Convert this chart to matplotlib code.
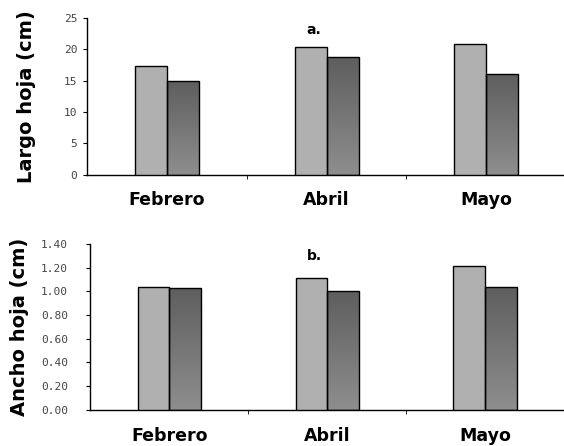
import numpy as np
import matplotlib.pyplot as plt
from matplotlib.colors import LinearSegmentedColormap

# ---------------------------
# DATOS
# ---------------------------

meses = ["Febrero", "Abril", "Mayo"]

largo_serie1 = [17.4, 20.3, 20.9]
largo_serie2 = [15.0, 18.7, 16.1]

ancho_serie1 = [1.04, 1.11, 1.21]
ancho_serie2 = [1.03, 1.00, 1.04]

largo_ticks = [0, 5, 10, 15, 20, 25]
ancho_ticks = [0.0, 0.2, 0.4, 0.6, 0.8, 1.0, 1.2, 1.4]

# ---------------------------
# ESTILO
# ---------------------------

ANCHO_BARRA = 0.2
COLOR_CLARO = "#b0b0b0"
degradado = LinearSegmentedColormap.from_list("gris", ["#8e8e8e", "#5e5e5e"])


def barras_degradado(ax, bars):
    # relleno degradado (oscuro arriba, claro abajo) recortado a cada barra
    grad = np.linspace(0, 1, 256).reshape(-1, 1)
    for b in bars:
        x0 = b.get_x()
        w, h = b.get_width(), b.get_height()
        im = ax.imshow(grad, cmap=degradado, aspect="auto", origin="lower",
                       extent=[x0, x0 + w, 0, h], vmin=0, vmax=1, zorder=2)
        im.set_clip_path(b)
        b.set_facecolor("none")
        b.set_zorder(3)


def panel(ax, s1, s2, ticks, fmt, ylabel, letra, xmax, ymax, pad_y, pad_lbl):
    x = np.arange(len(meses))
    ax.bar(x - ANCHO_BARRA / 2, s1, ANCHO_BARRA, color=COLOR_CLARO,
           edgecolor="black", linewidth=1.0, zorder=3)
    b2 = ax.bar(x + ANCHO_BARRA / 2, s2, ANCHO_BARRA, color="#707070",
                edgecolor="black", linewidth=1.0, zorder=3)
    barras_degradado(ax, b2)

    ax.set_xlim(-0.5, xmax)
    ax.set_ylim(0, ymax)
    ax.set_yticks(ticks)
    ax.set_yticklabels([fmt.format(t) for t in ticks], fontsize=8,
                       color="#444444", family="DejaVu Sans Mono")
    ax.set_xticks(x)
    ax.set_xticklabels(meses, fontsize=12.5, fontweight="bold")
    ax.tick_params(axis="x", length=0, pad=12)
    ax.set_xticks([0.5, 1.5, 2.5], minor=True)
    ax.tick_params(axis="x", which="minor", length=3, direction="out")
    ax.tick_params(axis="y", length=3, direction="out", pad=pad_y)

    for s in ["top", "right"]:
        ax.spines[s].set_visible(False)
    ax.spines["left"].set_linewidth(1.0)
    ax.spines["bottom"].set_linewidth(1.0)

    ax.set_ylabel(ylabel, fontsize=14, fontweight="bold", labelpad=pad_lbl)
    ax.text(0.92, ymax * 0.97, letra, fontsize=10, fontweight="bold",
            ha="center", va="top")


fig = plt.figure(figsize=(5.64, 4.46), dpi=100)

ax1 = fig.add_axes([0.154, 0.608, 0.85, 0.352])
panel(ax1, largo_serie1, largo_serie2, largo_ticks, "{:g}",
      "Largo hoja (cm)", "a.", 2.5, 25, 4, 20)

ax2 = fig.add_axes([0.160, 0.081, 0.84, 0.372])
panel(ax2, ancho_serie1, ancho_serie2, ancho_ticks, "{:.2f}",
      "Ancho hoja (cm)", "b.", 2.43, 1.4, 13, 9)

fig.savefig("out.png", dpi=100)
